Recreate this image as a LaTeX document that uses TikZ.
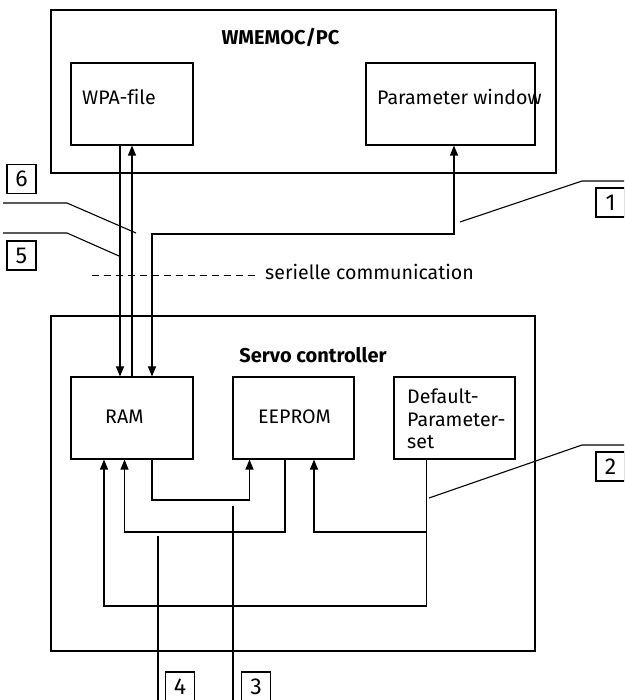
\documentclass[tikz,border=0pt]{standalone}
\usepackage{fontspec}
\setmainfont{Fira Sans}[Ligatures=NoCommon]
\usetikzlibrary{arrows.meta}
\begin{document}
\begin{tikzpicture}[x=1pt,y=-1pt,
  box/.style={draw, line width=1.1pt, inner sep=0pt},
  txt/.style={inner sep=0pt, font=\fontsize{19.6}{22}\selectfont},
  ttl/.style={inner sep=0pt, font=\fontsize{20}{22}\selectfont\bfseries},
  lab/.style={draw, line width=1.1pt, minimum size=29pt, inner sep=0pt, font=\fontsize{23}{24}\selectfont},
  conn/.style={line width=1.1pt},
  arr/.style={conn, -{Triangle[length=10pt,width=8pt]}},
  arrb/.style={conn, {Triangle[length=10pt,width=8pt]}-{Triangle[length=10pt,width=8pt]}},
  lead/.style={line width=1.1pt}]
\useasboundingbox (0,0) rectangle (624,700);
\clip (0,0) rectangle (624,700);
% boxes
\node[box, minimum width=505pt, minimum height=163pt] (pc) at (303.5,91.5) {};
\node[box, minimum width=122pt, minimum height=82pt] (wpa) at (132,104) {};
\node[box, minimum width=169pt, minimum height=82pt] (param) at (450.5,104) {};
\node[box, minimum width=484pt, minimum height=335pt] (servo) at (293,483.5) {};
\node[box, minimum width=122pt, minimum height=82pt] (ram) at (132,418) {};
\node[box, minimum width=121pt, minimum height=82pt] (eeprom) at (293.5,418) {};
\node[box, minimum width=121pt, minimum height=82pt] (default) at (454.5,418) {};
% texts
\node[ttl, anchor=base] (tpc) at (280.5,45) {WMEMOC/PC};
\node[ttl, anchor=base] (tservo) at (313,362) {Servo controller};
\node[txt, anchor=base west] (twpa) at (82,105) {WPA-file};
\node[txt, anchor=base west] (tparam) at (377,105) {Parameter window};
\node[txt, anchor=base west] (tram) at (105,423) {RAM};
\node[txt, anchor=base] (teeprom) at (294.5,423) {EEPROM};
\node[txt, anchor=base west] (td1) at (407,403) {Default-};
\node[txt, anchor=base west] (td2) at (407,426) {Parameter-};
\node[txt, anchor=base west] (td3) at (407,448) {set};
\node[txt, anchor=base west] (tser) at (265,279) {serielle communication};
% labels
\node[lab] (l6) at (21.5,179) {6};
\node[lab] (l5) at (21.5,255.5) {5};
\node[lab] (l1) at (610.5,202.5) {1};
\node[lab] (l2) at (610.5,466.5) {2};
\node[lab] (l4) at (180,686.5) {4};
\node[lab] (l3) at (256,686.5) {3};
% x positions
\coordinate (xa) at (120,0);
\coordinate (xb) at (132,0);
\coordinate (xc) at (152,0);
\coordinate (xd) at (454,0);
\coordinate (xe) at (249.5,0);
\coordinate (xf) at (285,0);
\coordinate (xg) at (124.5,0);
\coordinate (xh) at (314,0);
\coordinate (xi) at (426.5,0);
\coordinate (xj) at (104,0);
% connectors
\draw[arr] (wpa.south -| xa) -- (ram.north -| xa);
\draw[arr] (ram.north -| xb) -- (wpa.south -| xb);
\draw[arrb] (ram.north -| xc) -- (152,234) -| (param.south -| xd);
\draw[arr] (ram.south -| xc) -- (152,500) -| (eeprom.south -| xe);
\draw[arr] (eeprom.south -| xf) -- (285,532) -| (ram.south -| xg);
\draw[arr] (default.south -| xi) -- (426.5,532) -| (eeprom.south -| xh);
\draw[arr] (default.south -| xi) -- (426.5,606) -| (ram.south -| xj);
% serial line
\coordinate (s1) at (91.5,275);
\coordinate (s2) at (255,275);
\draw[line width=0.9pt, dash pattern=on 7.5pt off 4.5pt] (s1) -- (s2);
% leaders
\coordinate (a6) at (3,203); \coordinate (b6) at (67,203); \coordinate (c6) at (136,233);
\draw[lead] (a6) -- (b6) -- (c6);
\coordinate (a5) at (3,233); \coordinate (b5) at (67,233); \coordinate (c5) at (119,256);
\draw[lead] (a5) -- (b5) -- (c5);
\coordinate (a1) at (626,181); \coordinate (b1) at (582,181); \coordinate (c1) at (460,222);
\draw[lead] (a1) -- (b1) -- (c1);
\coordinate (a2) at (626,445); \coordinate (b2) at (582,445); \coordinate (c2) at (429,498);
\draw[lead] (a2) -- (b2) -- (c2);
\coordinate (a4) at (158,536); \coordinate (b4) at (158,702);
\draw[lead] (a4) -- (b4);
\coordinate (a3) at (233,506); \coordinate (b3) at (233,702);
\draw[lead] (a3) -- (b3);
\end{tikzpicture}
\end{document}
